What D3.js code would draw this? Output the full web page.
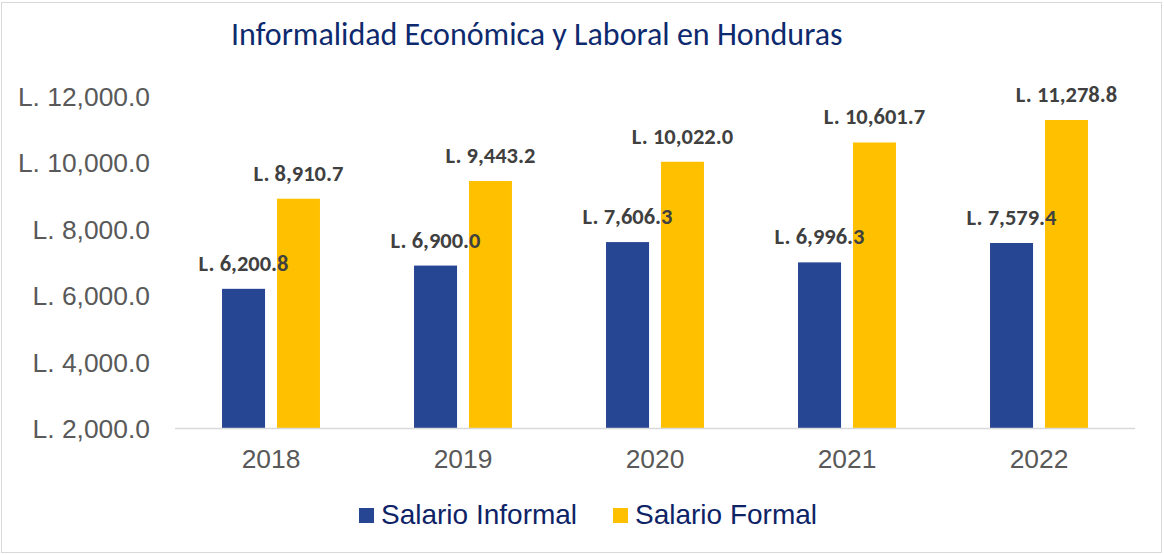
<!DOCTYPE html>
<html>
<head>
<meta charset="utf-8">
<script src="https://cdn.jsdelivr.net/npm/d3@7"></script>
<style>
  body { margin: 0; background: #fff; }
  svg { display: block; }
</style>
</head>
<body>
<div id="chart"></div>
<script>
// Data
const years = ['2018', '2019', '2020', '2021', '2022'];
const salarioInformal = [6200.8, 6900.0, 7606.3, 6996.3, 7579.4];
const salarioFormal = [8910.7, 9443.2, 10022.0, 10601.7, 11278.8];
const yTicks = [2000, 4000, 6000, 8000, 10000, 12000];
const seriesNames = ['Salario Informal', 'Salario Formal'];
const seriesColors = ['#264592', '#ffc000'];

const width = 1164, height = 555;
const margin = { top: 96, right: 29, bottom: 126, left: 175 };

const svg = d3.select('#chart').append('svg')
	.attr('width', width)
	.attr('height', height);

// Outer border
svg.append('rect')
	.attr('x', 1.5).attr('y', 2.5)
	.attr('width', width - 4).attr('height', height - 5)
	.style('fill', 'none')
	.style('stroke', '#d9d9d9');

// Scales
const x = d3.scaleBand()
	.domain(years)
	.range([margin.left, width - margin.right]);

const y = d3.scaleLinear()
	.domain([2000, 12000])
	.range([height - margin.bottom - 0.5, margin.top]);

const barW = x.bandwidth() * 0.224;
const gap = x.bandwidth() * 0.062;

// Title
svg.append('text')
	.attr('x', 231).attr('y', 45)
	.style('font-family', 'Carlito, Calibri, Lato, sans-serif')
	.style('font-size', '32px')
	.style('fill', '#0e2a6e')
	.text('Informalidad Económica y Laboral en Honduras');

// Y axis labels
const fmt = d3.format(',.1f');
svg.append('g').selectAll('text')
	.data(yTicks)
.join('text')
	.attr('x', 150)
	.attr('y', d => y(d))
	.attr('dy', '0.36em')
	.attr('text-anchor', 'end')
	.style('font-family', 'Liberation Sans, Arial, sans-serif')
	.style('font-size', '26.4px')
	.style('fill', '#595959')
	.text(d => 'L. ' + fmt(d));

// Bars
const series = [salarioInformal, salarioFormal];
series.forEach((values, s) => {
	const offset = s === 0 ? -gap / 2 - barW : gap / 2;
	const g = svg.append('g');
	g.selectAll('rect')
		.data(values)
	.join('rect')
		.attr('x', (d, i) => x(years[i]) + x.bandwidth() / 2 + offset)
		.attr('y', d => y(d))
		.attr('width', barW)
		.attr('height', d => y(2000) - y(d))
		.style('fill', seriesColors[s]);
});

// Axis baseline
svg.append('line')
	.attr('x1', margin.left).attr('x2', width - margin.right)
	.attr('y1', y(2000)).attr('y2', y(2000))
	.style('stroke', '#d9d9d9')
	.style('stroke-width', 1.5);

// Data labels (drawn after bars so they sit on top)
series.forEach((values, s) => {
	const offset = s === 0 ? -gap / 2 - barW / 2 : gap / 2 + barW / 2;
	svg.append('g').selectAll('text')
		.data(values)
	.join('text')
		.attr('x', (d, i) => x(years[i]) + x.bandwidth() / 2 + offset)
		.attr('y', d => y(d) - 18)
		.attr('text-anchor', 'middle')
		.style('font-family', 'Carlito, Calibri, Lato, sans-serif')
		.style('font-size', '22.5px')
		.style('font-weight', 'bold')
		.style('fill', '#404040')
		.text(d => 'L. ' + fmt(d));
});

// X labels
svg.append('g').selectAll('text')
	.data(years)
.join('text')
	.attr('x', d => x(d) + x.bandwidth() / 2)
	.attr('y', 468)
	.attr('text-anchor', 'middle')
	.style('font-family', 'Liberation Sans, Arial, sans-serif')
	.style('font-size', '26.4px')
	.style('fill', '#595959')
	.text(d => d);

// Legend
const legendX = [359, 613];
const legend = svg.append('g').selectAll('g')
	.data(seriesNames)
.join('g')
	.attr('transform', (d, i) => 'translate(' + legendX[i] + ',508)');

legend.append('rect')
	.attr('width', 15).attr('height', 15)
	.style('fill', (d, i) => seriesColors[i]);

legend.append('text')
	.attr('x', 22).attr('y', 16)
	.style('font-family', 'Liberation Sans, Arial, sans-serif')
	.style('font-size', '28px')
	.style('fill', '#0e2366')
	.text(d => d);
</script>
</body>
</html>
